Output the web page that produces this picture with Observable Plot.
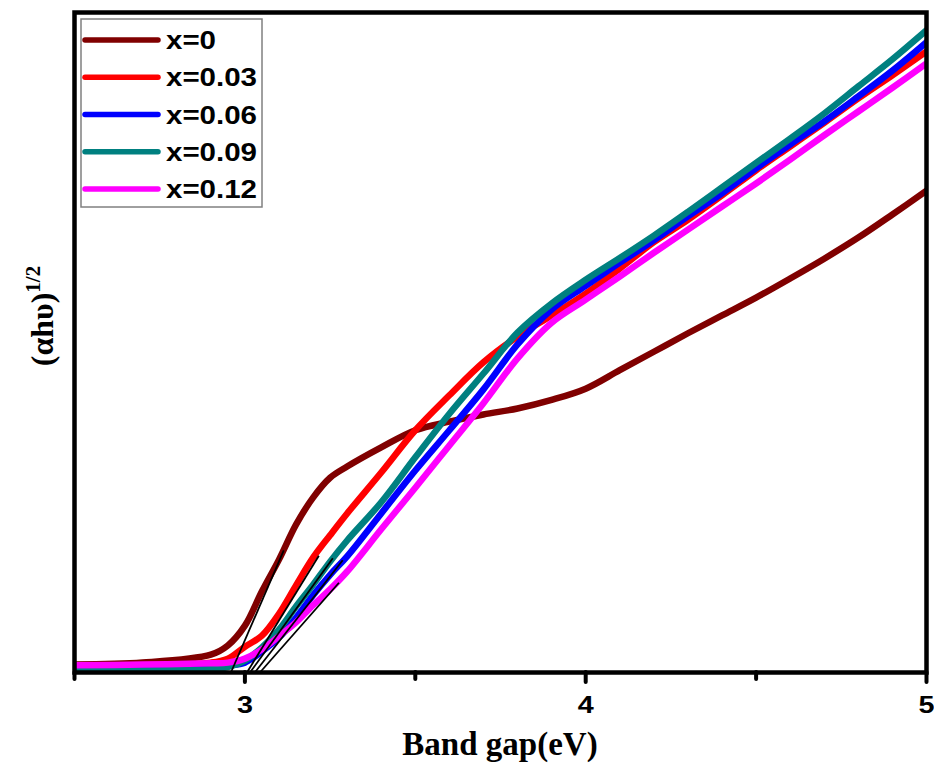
<!DOCTYPE html>
<html><head><meta charset="utf-8">
<script src="https://cdn.jsdelivr.net/npm/d3@7"></script>
<script src="https://cdn.jsdelivr.net/npm/@observablehq/plot@0.6"></script>
<style>body{margin:0;background:#fff}</style>
</head><body><div id="chart"></div>
<script>
// Photon energy grid (eV)
const energy = [2.5, 2.7, 2.9, 2.95, 3.0, 3.05, 3.1, 3.15, 3.2, 3.25, 3.3, 3.4, 3.5, 3.6, 3.7, 3.8, 3.9, 4.0, 4.1, 4.2, 4.3, 4.4, 4.5, 4.6, 4.7, 4.8, 4.9, 5.0];
// (alpha h nu)^1/2, arbitrary units
const y_x0   = [1.2, 1.5, 2.7, 4.1, 7.1, 12.3, 17.1, 22.4, 26.5, 29.5, 31.2, 34.1, 36.7, 38.0, 39.1, 40.0, 41.3, 43.0, 45.8, 48.6, 51.4, 54.1, 56.8, 59.7, 62.7, 65.9, 69.4, 73.0];
const y_x003 = [0.9, 1.1, 1.5, 2.1, 3.9, 5.6, 8.9, 13.2, 17.4, 20.8, 24.1, 30.3, 36.7, 42.0, 47.0, 50.9, 54.1, 57.4, 61.2, 65.2, 68.6, 72.3, 76.1, 79.7, 83.3, 87.0, 90.5, 94.1];
const y_x006 = [0.6, 0.6, 0.8, 1.1, 1.5, 3.2, 5.3, 8.3, 11.7, 14.8, 17.6, 24.1, 30.6, 36.7, 42.9, 49.7, 55.0, 58.6, 62.1, 65.5, 69.1, 72.6, 76.4, 80.0, 83.5, 87.3, 91.2, 95.5];
const y_x009 = [0.3, 0.3, 0.5, 0.8, 1.8, 3.8, 6.5, 10.0, 13.3, 16.8, 20.0, 25.8, 32.6, 39.2, 45.3, 51.5, 55.9, 59.5, 62.8, 66.2, 69.8, 73.5, 77.2, 80.9, 84.7, 88.8, 92.9, 97.3];
const y_x012 = [1.1, 1.2, 1.4, 1.5, 2.1, 3.5, 5.5, 7.6, 10.2, 12.6, 15.3, 21.7, 28.0, 34.4, 40.8, 47.6, 53.0, 56.5, 60.0, 63.6, 67.1, 70.6, 74.1, 77.7, 81.4, 85.0, 88.6, 92.3];

const seriesNames = ["x=0", "x=0.03", "x=0.06", "x=0.09", "x=0.12"];
const seriesColors = ["#800000", "#FF0000", "#0000FF", "#008080", "#FF00FF"];
const seriesValues = [y_x0, y_x003, y_x006, y_x009, y_x012];

// Tangent (Tauc extrapolation) lines
const tangentStartX = [2.959, 3.006, 3.029, 3.015, 3.044];
const tangentEndX   = [3.114, 3.217, 3.287, 3.258, 3.276];
const tangentEndY   = [18.5, 17.7, 17.0, 17.3, 13.6];

const majorTicks = [3, 4, 5];
const minorTicks = [2.5, 3.5, 4.5];

const rows = seriesNames.flatMap((name, i) =>
  energy.map((e, j) => ({series: name, energy: e, value: seriesValues[i][j]})));
const tangents = seriesNames.map((name, i) =>
  ({series: name, x1: tangentStartX[i], y1: 0, x2: tangentEndX[i], y2: tangentEndY[i]}));

const plot = Plot.plot({
  width: 934, height: 770,
  marginLeft: 74, marginRight: 8, marginTop: 12, marginBottom: 98,
  style: {background: "white", fontFamily: "'Liberation Sans', Arial, sans-serif"},
  x: {domain: [2.5, 5]},
  y: {domain: [0, 100], axis: null},
  color: {domain: seriesNames, range: seriesColors},
  marks: [
    Plot.line(rows, {x: "energy", y: "value", z: "series", stroke: "series", strokeWidth: 6.5,
      curve: "catmull-rom", strokeLinecap: "round", clip: true}),
    Plot.link(tangents, {x1: "x1", y1: "y1", x2: "x2", y2: "y2", stroke: "black", strokeWidth: 1.8}),
    Plot.frame({stroke: "black", strokeWidth: 4.5}),
    Plot.axisX(minorTicks, {tickSize: 7, tickFormat: () => "", label: null, strokeWidth: 4, strokeLinecap: "round"}),
    Plot.axisX(majorTicks, {tickSize: 10, tickPadding: 14, label: null, strokeWidth: 4, strokeLinecap: "round",
      tickFormat: d => String(d), fontSize: 23, fontWeight: "bold", fill: "black"})
  ]
});
document.getElementById("chart").appendChild(plot);

const svg = d3.select(plot);
// widen tick labels like the reference
svg.selectAll("g[aria-label='x-axis tick label'] text").each(function() {
  const t = this.getAttribute("transform") || "";
  this.setAttribute("transform", t + " scale(1.25,1)");
});

// Legend
const leg = svg.append("g").attr("text-anchor", "start");
leg.append("rect").attr("x", 81).attr("y", 19).attr("width", 181).attr("height", 188)
  .attr("fill", "white").attr("stroke", "#808080").attr("stroke-width", 1.5);
seriesNames.forEach((name, i) => {
  const cy = 40 + i * 37.25;
  leg.append("line").attr("x1", 85).attr("x2", 158).attr("y1", cy).attr("y2", cy)
    .attr("stroke", seriesColors[i]).attr("stroke-width", 5.5).attr("stroke-linecap", "round");
  leg.append("text").attr("transform", `translate(166,${cy + 9}) scale(1.18,1)`)
    .attr("text-anchor", "start")
    .attr("font-family", "'Liberation Sans', Arial, sans-serif").attr("font-weight", "bold")
    .attr("font-size", 25).attr("fill", "black").text(name);
});

// Axis titles
svg.append("text").attr("x", 500).attr("y", 755).attr("text-anchor", "middle")
  .attr("font-family", "'Liberation Serif', 'Times New Roman', serif").attr("font-weight", "bold")
  .attr("font-size", 33).attr("fill", "black").text("Band gap(eV)");
const yl = svg.append("text").attr("transform", "translate(53,316) rotate(-90)").attr("text-anchor", "middle")
  .attr("font-family", "'Liberation Serif', 'Times New Roman', serif").attr("font-weight", "bold")
  .attr("font-size", 32).attr("fill", "black");
yl.append("tspan").text("(αhυ)");
yl.append("tspan").attr("dy", -13).attr("font-size", 21).text("1/2");
</script>
</body></html>
